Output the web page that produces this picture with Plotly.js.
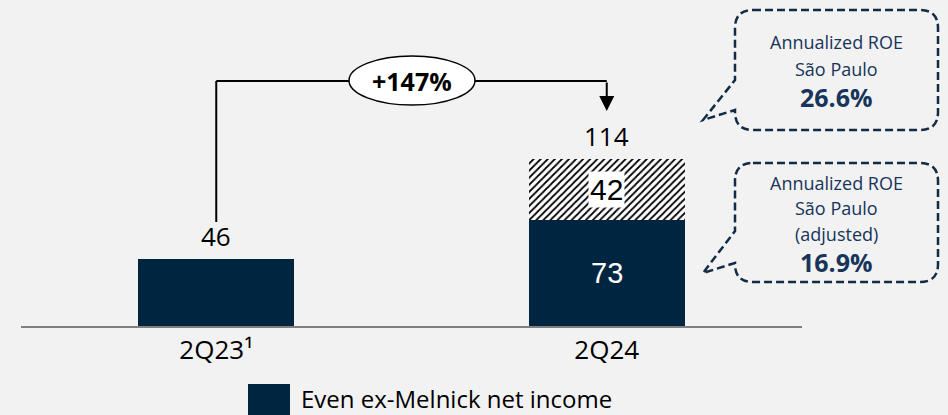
<!DOCTYPE html>
<html>
<head>
<meta charset="utf-8">
<script src="https://cdn.plot.ly/plotly-3.0.1.min.js"></script>
<style>html,body{margin:0;padding:0;background:#f2f2f2;}#chart{width:948px;height:415px;}</style>
</head>
<body>
<div id="chart"></div>
<script>
// ---- data ----
const categories = ['2Q23¹', '2Q24'];
const netIncome = [46, 73];
const adjustment = [0, 42];
const totalLabels = ['46', '114'];
const growthLabel = '+147%';
const legendLabel = 'Even ex-Melnick net income';
const callout1 = ['Annualized ROE', 'São Paulo', '26.6%'];
const callout2 = ['Annualized ROE', 'São Paulo', '(adjusted)', '16.9%'];

// ---- layout helpers (pixel -> paper) ----
const W = 948, H = 415;
const M = {l: 21, r: 146, t: 0, b: 89};
const PW = W - M.l - M.r, PH = H - M.t - M.b;
const px = p => (p - M.l) / PW;
const py = p => (H - M.b - p) / PH;

const NAVY = '#002540';
const TXT = '#17345a';
const FONT = 'Open Sans, sans-serif';

const traces = [
  {
    type: 'bar', x: categories, y: netIncome, name: legendLabel,
    width: 0.4, marker: {color: NAVY, line: {width: 0}}, showlegend: false, hoverinfo: 'skip'
  },
  {
    type: 'bar', x: categories, y: adjustment, name: 'Adjustment',
    width: 0.4,
    marker: {color: '#ffffff', line: {width: 0},
      pattern: {shape: '/', fgcolor: '#000000', bgcolor: '#ffffff', size: 5, solidity: 0.35}},
    showlegend: false, hoverinfo: 'skip'
  }
];

const annotations = [];
// totals above bars
categories.forEach((c, i) => {
  annotations.push({
    x: c, y: netIncome[i] + adjustment[i], xref: 'x', yref: 'y',
    text: totalLabels[i], showarrow: false, xanchor: 'center', yanchor: 'middle', yshift: 23,
    font: {family: FONT, size: 26, color: '#000'}
  });
});
// inside labels (second bar)
annotations.push({
  x: categories[1], y: netIncome[1] / 2, xref: 'x', yref: 'y',
  text: String(netIncome[1]), showarrow: false, xanchor: 'center', yanchor: 'middle',
  font: {family: 'Liberation Sans, Arial, sans-serif', size: 29, color: '#ffffff'}
});
annotations.push({
  x: categories[1], y: netIncome[1] + adjustment[1] / 2, xref: 'x', yref: 'y',
  text: String(adjustment[1]), showarrow: false, bgcolor: '#ffffff', borderpad: 1,
  xanchor: 'center', yanchor: 'middle',
  font: {family: 'Liberation Sans, Arial, sans-serif', size: 30, color: '#000'}
});
// growth arrow (vertical part with head)
annotations.push({
  x: 1, y: py(111), xref: 'x', yref: 'paper', text: '', showarrow: true,
  ax: 0, ay: -30, arrowhead: 2, arrowsize: 1.5, arrowwidth: 2, arrowcolor: '#000', standoff: 0
});
annotations.push({
  x: px(412), y: py(81), xref: 'paper', yref: 'paper', text: '<b>' + growthLabel + '</b>',
  xanchor: 'center', yanchor: 'middle',
  showarrow: false, font: {family: FONT, size: 25, color: '#000'}
});
// legend text
annotations.push({
  x: px(300), y: py(398), xref: 'paper', yref: 'paper', xanchor: 'left', yanchor: 'middle',
  text: legendLabel, showarrow: false, borderpad: 0, font: {family: FONT, size: 24, color: '#000'}
});
// callouts
const c1y = [42, 69, 97];
callout1.forEach((t, i) => annotations.push({
  x: px(836), y: py(c1y[i]), xref: 'paper', yref: 'paper', showarrow: false,
  xanchor: 'center', yanchor: 'middle',
  text: i === callout1.length - 1 ? '<b>' + t + '</b>' : t,
  font: {family: FONT, size: i === callout1.length - 1 ? 25 : 18, color: TXT}
}));
const c2y = [183, 208, 234, 262];
callout2.forEach((t, i) => annotations.push({
  x: px(836), y: py(c2y[i]), xref: 'paper', yref: 'paper', showarrow: false,
  xanchor: 'center', yanchor: 'middle',
  text: i === callout2.length - 1 ? '<b>' + t + '</b>' : t,
  font: {family: FONT, size: i === callout2.length - 1 ? 25 : 18, color: TXT}
}));

function bubble(L, R, T, B, r, t1, tip, t2) {
  const P = (x, y) => px(x) + ',' + py(y);
  return 'M' + P(L + r, T) + ' L' + P(R - r, T) + ' Q' + P(R, T) + ' ' + P(R, T + r) +
    ' L' + P(R, B - r) + ' Q' + P(R, B) + ' ' + P(R - r, B) +
    ' L' + P(L + r, B) + ' Q' + P(L, B) + ' ' + P(L, B - r) +
    ' L' + P(L, t2) + ' L' + P(tip[0], tip[1]) + ' L' + P(L, t1) +
    ' L' + P(L, T + r) + ' Q' + P(L, T) + ' ' + P(L + r, T) + ' Z';
}

const shapes = [
  // connector
  {type: 'line', xref: 'x', yref: 'paper', x0: 0, x1: 0, y0: py(222), y1: py(81), line: {color: '#000', width: 2}},
  {type: 'line', xref: 'x', yref: 'paper', x0: 0, x1: 1, y0: py(81), y1: py(81), line: {color: '#000', width: 2}},
  // ellipse
  {type: 'circle', xref: 'paper', yref: 'paper', x0: px(349), x1: px(475), y0: py(105), y1: py(56),
    fillcolor: '#ffffff', line: {color: '#000', width: 1.5}},
  // legend swatch
  {type: 'rect', xref: 'paper', yref: 'paper', x0: px(248), x1: px(290), y0: py(384), y1: py(420),
    fillcolor: NAVY, line: {width: 0}},
  // callout bubbles
  {type: 'path', xref: 'paper', yref: 'paper', path: bubble(735, 938, 10, 130, 18, 80, [703, 120], 110),
    line: {color: '#132b45', width: 2.5, dash: '8px,4px'}, fillcolor: 'rgba(0,0,0,0)'},
  {type: 'path', xref: 'paper', yref: 'paper', path: bubble(735, 938, 163, 282, 18, 231, [703, 273], 263),
    line: {color: '#132b45', width: 2.5, dash: '8px,4px'}, fillcolor: 'rgba(0,0,0,0)'}
];

const layout = {
  width: W, height: H, margin: M,
  paper_bgcolor: '#f2f2f2', plot_bgcolor: '#f2f2f2',
  barmode: 'stack', showlegend: false,
  xaxis: {
    type: 'category', range: [-0.5, 1.5], showline: true, linecolor: '#808080', linewidth: 2,
    showgrid: false, zeroline: false, ticks: '', fixedrange: true,
    tickfont: {family: FONT, size: 26, color: '#000'}
  },
  yaxis: {range: [0, 225], visible: false, fixedrange: true},
  annotations: annotations, shapes: shapes
};

Plotly.newPlot('chart', traces, layout, {displayModeBar: false, staticPlot: true});
</script>
</body>
</html>
